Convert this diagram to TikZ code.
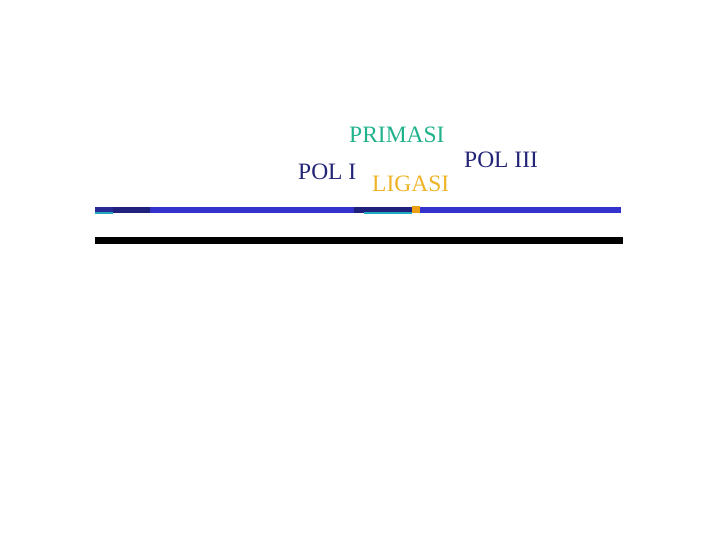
\documentclass[tikz,border=0pt]{standalone}
\usepackage{fontspec}
\setmainfont{Liberation Serif}
\definecolor{primteal}{RGB}{32,178,140}
\definecolor{ligold}{RGB}{238,180,40}
\definecolor{polnavy}{RGB}{35,35,120}
\definecolor{strandblue}{RGB}{51,51,204}
\definecolor{segnavy}{RGB}{32,32,125}
\definecolor{segnavyb}{RGB}{42,42,150}
\definecolor{primline}{RGB}{32,170,190}
\definecolor{ligorange}{RGB}{238,160,20}
\begin{document}
\begin{tikzpicture}[x=1pt,y=-1pt,
  lbl/.style={anchor=base west,inner sep=0pt,font=\fontsize{23.5}{26}\selectfont}]
\useasboundingbox (0,0) rectangle (720,540);
% template strand
\fill[black] (95,237) rectangle (623,243.5);
% new strand
\fill[strandblue] (95,207) rectangle (621,213.5);
\fill[segnavyb] (95,207) rectangle (113,213.5);
\fill[segnavy] (113,207) rectangle (150,213.5);
\fill[primline] (95,212.5) rectangle (113,214.5);
\fill[segnavy] (354,207) rectangle (412,213.5);
\fill[primline] (364,212.5) rectangle (412,214.5);
\fill[ligorange] (412,206.5) rectangle (420,213.5);
% labels
\node[lbl,text=primteal] (primasi) at (349,143) {PRIMASI};
\node[lbl,text=polnavy] (pol1) at (298,180) {POL I};
\node[lbl,text=ligold] (ligasi) at (372,192) {LIGASI};
\node[lbl,text=polnavy] (pol3) at (464,168) {POL III};
\end{tikzpicture}
\end{document}
